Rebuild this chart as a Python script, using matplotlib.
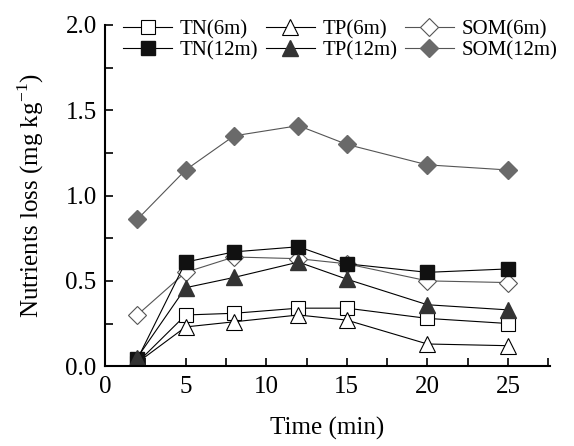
import matplotlib
matplotlib.use('Agg')
import matplotlib.pyplot as plt
from matplotlib.ticker import MultipleLocator, FormatStrFormatter

plt.rcParams['font.family'] = ['Liberation Serif', 'DejaVu Serif']
plt.rcParams['mathtext.fontset'] = 'custom'
plt.rcParams['mathtext.rm'] = 'Liberation Serif'

# ---------------- data ----------------
time = [2, 5, 8, 12, 15, 20, 25]
tn_6m = [0.02, 0.30, 0.31, 0.34, 0.34, 0.28, 0.25]
tp_6m = [0.02, 0.23, 0.26, 0.30, 0.27, 0.13, 0.12]
som_6m = [0.30, 0.55, 0.64, 0.63, 0.60, 0.50, 0.49]
tn_12m = [0.04, 0.61, 0.67, 0.70, 0.60, 0.55, 0.57]
tp_12m = [0.05, 0.46, 0.52, 0.61, 0.51, 0.36, 0.33]
som_12m = [0.86, 1.15, 1.35, 1.41, 1.30, 1.18, 1.15]

fig = plt.figure(figsize=(5.74, 4.46), dpi=100)
ax = fig.add_axes([0.183, 0.179, 0.775, 0.765])

ms = 10
l_tn6, = ax.plot(time, tn_6m, color='black', lw=0.8, marker='s', ms=ms,
                 mfc='white', mec='black', mew=0.8, label='TN(6m)')
l_tp6, = ax.plot(time, tp_6m, color='black', lw=0.8, marker='^', ms=ms + 1,
                 mfc='white', mec='black', mew=0.8, label='TP(6m)')
l_som6, = ax.plot(time, som_6m, color='#555555', lw=0.8, marker='D', ms=ms - 1,
                  mfc='white', mec='#555555', mew=0.8, label='SOM(6m)')
l_tn12, = ax.plot(time, tn_12m, color='black', lw=0.8, marker='s', ms=ms,
                  mfc='#111111', mec='#111111', label='TN(12m)')
l_tp12, = ax.plot(time, tp_12m, color='black', lw=0.8, marker='^', ms=ms + 1,
                  mfc='#333333', mec='#333333', label='TP(12m)')
l_som12, = ax.plot(time, som_12m, color='#555555', lw=0.8, marker='D', ms=ms - 1,
                   mfc='#6a6a6a', mec='#6a6a6a', label='SOM(12m)')

ax.set_xlim(0, 27.6)
ax.set_ylim(0, 2.0)
ax.xaxis.set_major_locator(MultipleLocator(5))
ax.xaxis.set_minor_locator(MultipleLocator(2.5))
ax.yaxis.set_major_locator(MultipleLocator(0.5))
ax.yaxis.set_minor_locator(MultipleLocator(0.25))
ax.yaxis.set_major_formatter(FormatStrFormatter('%.1f'))
ax.tick_params(which='both', direction='in', width=1.2, length=6, labelsize=18)
ax.tick_params(axis='x', pad=7)
ax.tick_params(axis='y', pad=6)
for s in ['top', 'right']:
    ax.spines[s].set_visible(False)
for s in ['left', 'bottom']:
    ax.spines[s].set_linewidth(1.5)

ax.set_xlabel('Time (min)', fontsize=18, labelpad=14)
ax.set_ylabel('Nutrients loss (mg kg$^{-1}$)', fontsize=18, labelpad=14)

handles = [l_tn6, l_tn12, l_tp6, l_tp12, l_som6, l_som12]
fig.legend(handles=handles, labels=[h.get_label() for h in handles],
           ncol=3, loc='upper left', bbox_to_anchor=(0.2, 0.975),
           frameon=False, fontsize=15, handlelength=2.35, handletextpad=0.38,
           columnspacing=0.34, labelspacing=0.1, borderaxespad=0)

fig.savefig('out.png', dpi=100)
